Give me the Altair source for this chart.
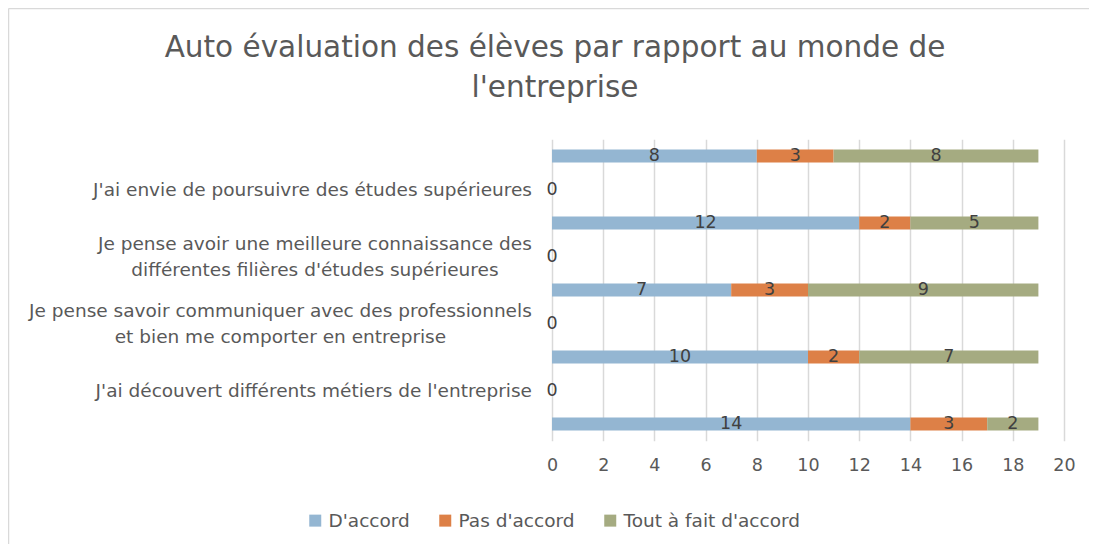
import altair as alt
import pandas as pd

# ---------------- data ----------------
row_labels = [
    "",
    "J'ai envie de poursuivre des études  supérieures",
    "",
    "Je pense avoir une meilleure connaissance des\ndifférentes filières d'études supérieures",
    "",
    "Je pense savoir communiquer avec des professionnels\net bien me comporter en entreprise",
    "",
    "J'ai découvert différents métiers de l'entreprise",
    "",
]
series = ["D'accord", "Pas d'accord", "Tout à fait d'accord"]
d_accord = [8, 0, 12, 0, 7, 0, 10, 0, 14]
pas_d_accord = [3, 0, 2, 0, 3, 0, 2, 0, 3]
tout_a_fait = [8, 0, 5, 0, 9, 0, 7, 0, 2]
colors = ["#94B6D2", "#DD8047", "#A5AB81"]
x_ticks = list(range(0, 21, 2))
title_text = "Auto évaluation des élèves par rapport au monde de\nl'entreprise"

FONT = "DejaVu Sans"
TXT = "#595959"
LBL_FS = 18.5
NUM_FS = 17.5
LINE_H = 26

rows = []
for s_i, (name, vals) in enumerate(zip(series, [d_accord, pas_d_accord, tout_a_fait])):
    for r, v in enumerate(vals):
        rows.append({"r": r, "series": name, "order": s_i, "value": v})
df = pd.DataFrame(rows)

# approximate DejaVu Sans advance widths (em) to centre multi-line labels
W = {" ": .318, "'": .275, "a": .613, "b": .635, "c": .55, "d": .635, "e": .615, "é": .615,
     "è": .615, "f": .352, "g": .635, "h": .634, "i": .278, "j": .278, "k": .579, "l": .278,
     "m": .974, "n": .634, "o": .612, "p": .635, "q": .635, "r": .411, "s": .521, "t": .392,
     "u": .634, "v": .592, "w": .818, "x": .592, "y": .592, "z": .525, "J": .295}


def text_w(s):
    return sum(W.get(c, .6) for c in s) * LBL_FS


RIGHT = -20  # px left of the value axis
lab_single, lab_multi = [], []
for r, t in enumerate(row_labels):
    if not t:
        continue
    if "\n" in t:
        w = max(text_w(line) for line in t.split("\n"))
        lab_multi.append({"r": r, "t": t, "px": RIGHT - w / 2})
    else:
        lab_single.append({"r": r, "t": t})

PLOT_W, PLOT_H = 512, 301.5

y_enc = alt.Y("r:O", axis=None, scale=alt.Scale(paddingInner=0.61, paddingOuter=0.305))

base = alt.Chart(df).transform_stack(
    stack="value", groupby=["r"], as_=["v0", "v1"], sort=[alt.SortField("order")]
)

bars = base.mark_bar().encode(
    x=alt.X("v0:Q", scale=alt.Scale(domain=[0, 20], nice=False),
            axis=alt.Axis(values=x_ticks, grid=True, gridColor="#d9d9d9", gridWidth=1.5,
                          domain=False, ticks=False, labelFontSize=NUM_FS, labelColor=TXT,
                          labelFont=FONT, labelPadding=16, labelFlush=False, title=None)),
    x2="v1:Q",
    y=y_enc,
    color=alt.Color("series:N", sort=series,
                    scale=alt.Scale(domain=series, range=colors),
                    legend=alt.Legend(orient="none", legendX=-246, legendY=372,
                                      direction="horizontal", title=None,
                                      symbolType="square", symbolSize=144,
                                      symbolStrokeWidth=0, labelFontSize=LBL_FS,
                                      labelFont=FONT, labelColor=TXT, columnPadding=26,
                                      labelOffset=4, labelLimit=400)),
)

values = base.transform_filter("datum.value > 0 || datum.order == 0").transform_calculate(
    mid="(datum.v0 + datum.v1) / 2"
).mark_text(font=FONT, fontSize=NUM_FS, color="#404040", baseline="middle").encode(
    x="mid:Q", y=y_enc, text="value:Q"
)

lab1 = alt.Chart(pd.DataFrame(lab_single)).mark_text(
    font=FONT, fontSize=LBL_FS, color=TXT, align="right", baseline="middle"
).encode(x=alt.value(RIGHT), y=y_enc, text="t:N")

lab2 = alt.Chart(pd.DataFrame(lab_multi)).mark_text(
    font=FONT, fontSize=LBL_FS, color=TXT, align="center", baseline="middle",
    lineBreak="\n", lineHeight=LINE_H, dy=-LINE_H / 2
).encode(x=alt.X("px:Q", scale=None), y=y_enc, text="t:N")

title = alt.Chart(pd.DataFrame({"t": [title_text]})).mark_text(
    font=FONT, fontSize=29.5, color=TXT, align="center", baseline="middle",
    lineBreak="\n", lineHeight=40
).encode(x=alt.value(3), y=alt.value(-91), text="t:N")

# chart frame (left and top edges visible in the reference)
frame_l = alt.Chart(pd.DataFrame({"k": [0]})).mark_rule(color="#d9d9d9", strokeWidth=1.5).encode(
    x=alt.value(-543.5), y=alt.value(-130.75), y2=alt.value(420))
frame_t = alt.Chart(pd.DataFrame({"k": [0]})).mark_rule(color="#d9d9d9", strokeWidth=1.5).encode(
    x=alt.value(-543.5), x2=alt.value(600), y=alt.value(-130.75))

chart = alt.layer(frame_l, frame_t, title, bars, values, lab1, lab2).properties(
    width=PLOT_W, height=PLOT_H,
    autosize=alt.AutoSizeParams(type="none"),
    padding={"left": 544, "top": 131.25, "right": 25, "bottom": 103},
).configure_view(strokeWidth=0)

chart.save("out.html", embed_options={"renderer": "svg", "actions": False})
